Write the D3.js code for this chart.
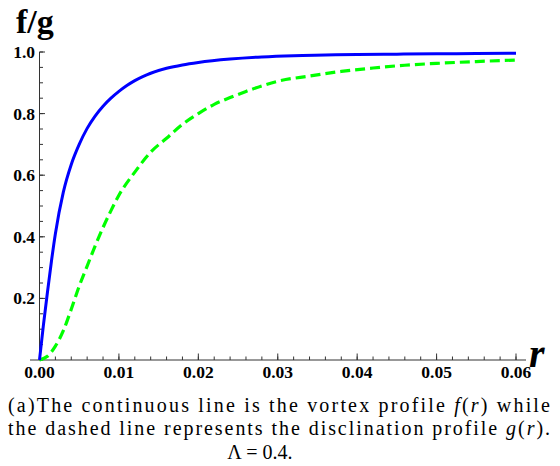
<!DOCTYPE html>
<html><head><meta charset="utf-8">
<script src="https://cdn.jsdelivr.net/npm/d3@7"></script>
<style>html,body{margin:0;padding:0;background:#fff;}svg{display:block;}</style>
</head><body>
<svg id="chart" width="560" height="466"></svg>
<script>
// Data
const rValues = [0,0.0005,0.001,0.0015,0.002,0.003,0.004,0.005,0.006,0.007,0.008,0.009,0.010,0.011,0.012,0.013,0.014,0.016,0.018,0.020,0.024,0.028,0.032,0.036,0.040,0.045,0.050,0.055,0.060];
const fValues = [0,0.115,0.22,0.32,0.41,0.545,0.635,0.70,0.752,0.792,0.824,0.850,0.872,0.891,0.907,0.920,0.931,0.947,0.958,0.966,0.977,0.984,0.988,0.990,0.992,0.993,0.994,0.995,0.996];
const gRValues = [0,0.001,0.002,0.003,0.004,0.005,0.006,0.007,0.008,0.009,0.010,0.012,0.014,0.016,0.018,0.020,0.022,0.024,0.026,0.028,0.030,0.034,0.038,0.042,0.046,0.050,0.055,0.060];
const gValues = [0,0.012,0.045,0.095,0.165,0.24,0.305,0.37,0.43,0.485,0.535,0.61,0.675,0.72,0.765,0.80,0.83,0.852,0.872,0.89,0.905,0.922,0.937,0.948,0.957,0.963,0.969,0.974];
const xTicks = [0,0.01,0.02,0.03,0.04,0.05,0.06];
const xTickLabels = ["0.00","0.01","0.02","0.03","0.04","0.05","0.06"];
const yTicks = [0.2,0.4,0.6,0.8,1.0];
const yTickLabels = ["0.2","0.4","0.6","0.8","1.0"];

const svg = d3.select("#chart");
const x = d3.scaleLinear().domain([0,0.06]).range([39.5,516]);
const y = d3.scaleLinear().domain([0,1]).range([360,52]);

// axes
const axisColor = "#333";
svg.append("line").attr("x1",30).attr("x2",526).attr("y1",y(0)).attr("y2",y(0)).attr("stroke",axisColor).attr("stroke-width",1);
svg.append("line").attr("x1",x(0)).attr("x2",x(0)).attr("y1",y(0)).attr("y2",y(1)).attr("stroke",axisColor).attr("stroke-width",1);

const xMinor = d3.range(0,0.0601,0.002);
svg.selectAll(".xmin").data(xMinor).enter().append("line")
  .attr("x1",d=>x(d)).attr("x2",d=>x(d)).attr("y1",y(0)).attr("y2",y(0)-3.5)
  .attr("stroke",axisColor).attr("stroke-width",1);
svg.selectAll(".xmaj").data(xTicks).enter().append("line")
  .attr("x1",d=>x(d)).attr("x2",d=>x(d)).attr("y1",y(0)).attr("y2",y(0)-6.5)
  .attr("stroke",axisColor).attr("stroke-width",1);
const yMinor = d3.range(0,1.001,0.05);
svg.selectAll(".ymin").data(yMinor).enter().append("line")
  .attr("x1",x(0)).attr("x2",x(0)+3.5).attr("y1",d=>y(d)).attr("y2",d=>y(d))
  .attr("stroke",axisColor).attr("stroke-width",1);
svg.selectAll(".ymaj").data(yTicks).enter().append("line")
  .attr("x1",x(0)).attr("x2",x(0)+5.5).attr("y1",d=>y(d)).attr("y2",d=>y(d))
  .attr("stroke",axisColor).attr("stroke-width",1);

const labelFont = "'Liberation Serif','Times New Roman',serif";
svg.selectAll(".xl").data(xTicks).enter().append("text")
  .attr("x",d=>x(d)).attr("y",378).attr("text-anchor","middle")
  .attr("font-family",labelFont).attr("font-weight","bold").attr("font-size",17.5)
  .text((d,i)=>xTickLabels[i]);
svg.selectAll(".yl").data(yTicks).enter().append("text")
  .attr("x",35).attr("y",d=>y(d)+6).attr("text-anchor","end")
  .attr("font-family",labelFont).attr("font-weight","bold").attr("font-size",17.5)
  .text((d,i)=>yTickLabels[i]);

// axis titles
svg.append("text").attr("x",16).attr("y",33).attr("font-family",labelFont)
  .attr("font-weight","bold").attr("font-size",34).text("f/g");
svg.append("text").attr("x",529).attr("y",367).attr("font-family",labelFont)
  .attr("font-weight","bold").attr("font-style","italic").attr("font-size",40).text("r");

// curves
const lineGen = d3.line().x(d=>x(d[0])).y(d=>y(d[1])).curve(d3.curveMonotoneX);
svg.append("path").datum(gRValues.map((r,i)=>[r,gValues[i]]))
  .attr("d",lineGen).attr("fill","none").attr("stroke","#00ff00")
  .attr("stroke-width",3.2).attr("stroke-dasharray","10,5");
svg.append("path").datum(rValues.map((r,i)=>[r,fValues[i]]))
  .attr("d",lineGen).attr("fill","none").attr("stroke","#0000ff")
  .attr("stroke-width",3);

// caption
const capFont = "'Liberation Serif','DejaVu Serif',serif";
const cap1 = svg.append("text").attr("x",8).attr("y",412).attr("font-family",capFont).attr("font-size",20)
  .attr("textLength",542).attr("lengthAdjust","spacing");
cap1.append("tspan").text("(a)The continuous line is the vortex profile ");
cap1.append("tspan").attr("font-style","italic").text("f");
cap1.append("tspan").text("(");
cap1.append("tspan").attr("font-style","italic").text("r");
cap1.append("tspan").text(") while");
const cap2 = svg.append("text").attr("x",8).attr("y",435).attr("font-family",capFont).attr("font-size",20)
  .attr("textLength",542).attr("lengthAdjust","spacing");
cap2.append("tspan").text("the dashed line represents the disclination profile ");
cap2.append("tspan").attr("font-style","italic").text("g");
cap2.append("tspan").text("(");
cap2.append("tspan").attr("font-style","italic").text("r");
cap2.append("tspan").text(").");
const cap3 = svg.append("text").attr("x",260).attr("y",459).attr("text-anchor","middle")
  .attr("font-family",capFont).attr("font-size",20).attr("xml:space","preserve");
cap3.text("Λ = 0.4.");
</script>
</body></html>
